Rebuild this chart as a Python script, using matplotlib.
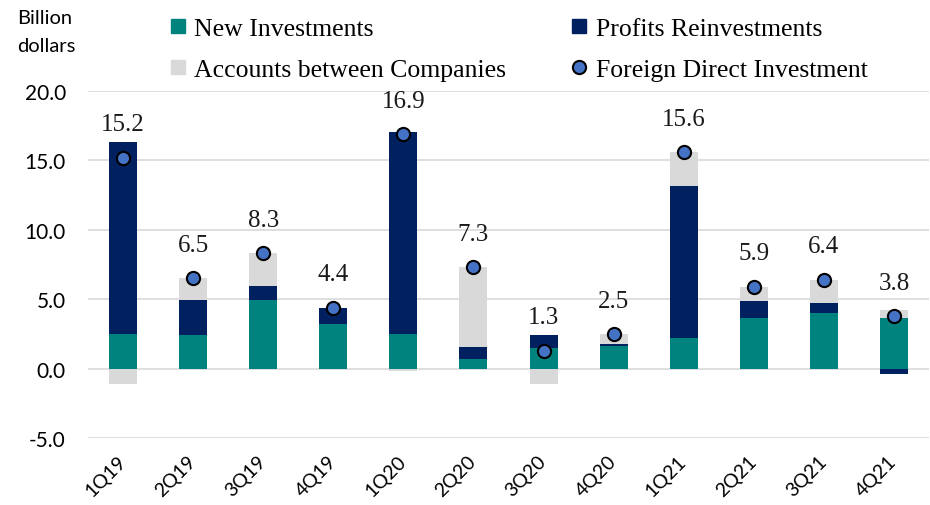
import matplotlib
matplotlib.use("Agg")
import matplotlib.pyplot as plt
import matplotlib.transforms as mtransforms
from matplotlib.lines import Line2D
import numpy as np

quarters = ["1Q19", "2Q19", "3Q19", "4Q19", "1Q20", "2Q20",
            "3Q20", "4Q20", "1Q21", "2Q21", "3Q21", "4Q21"]
new_investments = [2.5, 2.4, 4.95, 3.2, 2.5, 0.7, 1.5, 1.6, 2.2, 3.65, 4.0, 3.65]
profits_reinvest = [13.8, 2.55, 1.0, 1.2, 14.55, 0.85, 0.9, 0.2, 10.95, 1.25, 0.7, -0.4]
accounts_between = [-1.1, 1.55, 2.35, 0.0, -0.15, 5.75, -1.1, 0.7, 2.45, 1.0, 1.7, 0.55]
fdi_total = [15.2, 6.5, 8.3, 4.4, 16.9, 7.3, 1.3, 2.5, 15.6, 5.9, 6.4, 3.8]
y_ticks = [-5.0, 0.0, 5.0, 10.0, 15.0, 20.0]

c_teal = "#00827F"
c_navy = "#002060"
c_grey = "#D9D9D9"
c_dot = "#4472C4"

serif = "Liberation Serif"
sans = "Lato"

fig = plt.figure(figsize=(9.3, 5.06), dpi=100)
ax = fig.add_axes([88/930, 1-439/506, (929-88)/930, (439-92)/506])

x = np.arange(len(quarters))
pos_bottom = np.zeros(len(quarters))
neg_bottom = np.zeros(len(quarters))
for vals, col in [(new_investments, c_teal), (profits_reinvest, c_navy), (accounts_between, c_grey)]:
    v = np.array(vals, dtype=float)
    bottoms = np.where(v >= 0, pos_bottom, neg_bottom)
    ax.bar(x, v, bottom=bottoms, width=0.4, color=col, zorder=2)
    pos_bottom = pos_bottom + np.where(v >= 0, v, 0)
    neg_bottom = neg_bottom + np.where(v < 0, v, 0)

ax.plot(x, fdi_total, linestyle="none", marker="o", markersize=9.5,
        markerfacecolor=c_dot, markeredgecolor="black", markeredgewidth=1.5, zorder=4)
for xi, val in zip(x, fdi_total):
    ax.annotate(f"{val:.1f}", (xi, val), xytext=(0, 24), textcoords="offset points",
                ha="center", va="center", fontsize=18, family=serif, color="#1a1a1a")

ax.set_xlim(-0.5, len(quarters) - 0.5)
ax.set_ylim(-5, 20)
ax.set_yticks(y_ticks)
ax.set_yticklabels([f"{t:.1f}" for t in y_ticks], fontsize=15, family=sans)
ax.set_xticks(x)
ax.set_xticklabels(quarters, rotation=45, ha="right", fontsize=14, family=sans)
ax.tick_params(axis="both", length=0)
ax.tick_params(axis="y", pad=16)
ax.tick_params(axis="x", pad=10)
shift = mtransforms.ScaledTranslation(6/100, 0, fig.dpi_scale_trans)
for lab in ax.get_xticklabels():
    lab.set_transform(lab.get_transform() + shift)
ax.yaxis.grid(True, color="#D9D9D9", linewidth=1.2, zorder=0)
ax.set_axisbelow(True)
for s in ax.spines.values():
    s.set_visible(False)

handles = [
    Line2D([], [], linestyle="none", marker="s", markersize=9.5, color=c_teal),
    Line2D([], [], linestyle="none", marker="s", markersize=9.5, color=c_grey),
    Line2D([], [], linestyle="none", marker="s", markersize=9.5, color=c_navy),
    Line2D([], [], linestyle="none", marker="o", markersize=9.5,
           markerfacecolor=c_dot, markeredgecolor="black", markeredgewidth=1.5),
]
labels = ["New Investments", "Accounts between Companies",
          "Profits Reinvestments", "Foreign Direct Investment"]
fig.legend(handles, labels, loc="upper left", bbox_to_anchor=(168/930, 1-18/506),
           ncol=2, frameon=False, prop={"family": serif, "size": 18.5},
           handlelength=0.75, handletextpad=0.28, labelspacing=0.72,
           columnspacing=2.45, borderpad=0, borderaxespad=0)

fig.text(17/930, 1-18/506, "Billion", fontsize=14.5, family=sans, va="center", ha="left")
fig.text(17/930, 1-47/506, "dollars", fontsize=14.5, family=sans, va="center", ha="left")

fig.savefig("out.png", dpi=100)
